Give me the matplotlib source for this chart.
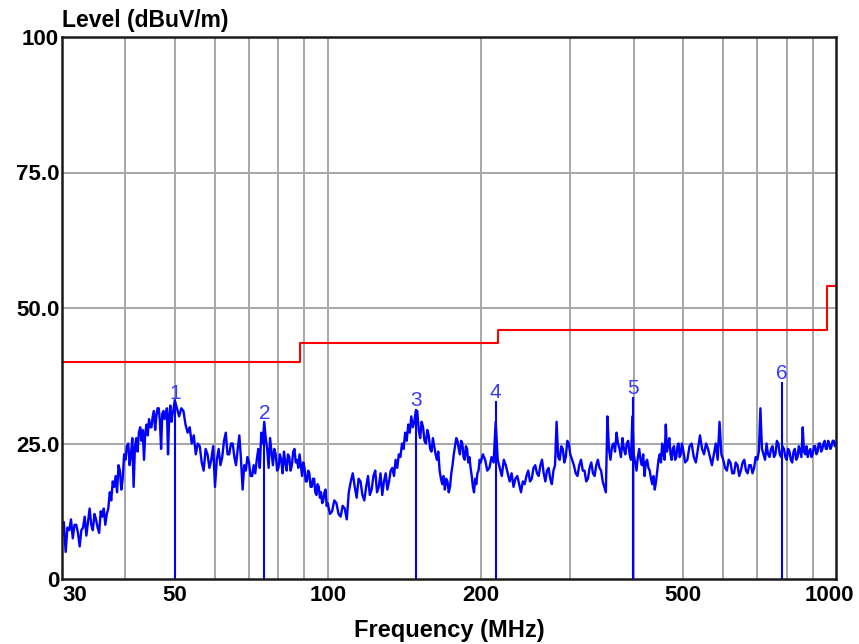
import matplotlib.pyplot as plt
from matplotlib.transforms import ScaledTranslation

freq_mhz = [
    # 30 - 40
    30.0, 30.25, 30.5, 30.75, 31.0, 31.25, 31.5, 31.75, 32.0, 32.25,
    32.5, 32.75, 33.0, 33.25, 33.5, 33.75, 34.0, 34.25, 34.5, 34.75,
    35.0, 35.25, 35.5, 35.75, 36.0, 36.25, 36.5, 36.75, 37.0, 37.25,
    37.5, 37.75, 38.0, 38.25, 38.5, 38.75, 39.0, 39.25, 39.5, 39.75,
    # 40 - 50
    40.0, 40.25, 40.5, 40.75, 41.0, 41.25, 41.5, 41.75, 42.0, 42.25,
    42.5, 42.75, 43.0, 43.25, 43.5, 43.75, 44.0, 44.25, 44.5, 44.75,
    45.0, 45.25, 45.5, 45.75, 46.0, 46.25, 46.5, 46.75, 47.0, 47.25,
    47.5, 47.75, 48.0, 48.25, 48.5, 48.75, 49.0, 49.25, 49.5, 49.75,
    # 50 - 100
    50.0, 50.5, 51.0, 51.5, 52.0, 52.5, 53.0, 53.5, 54.0, 54.5,
    55.0, 55.5, 56.0, 56.5, 57.0, 57.5, 58.0, 58.5, 59.0, 59.5,
    60.0, 60.5, 61.0, 61.5, 62.0, 62.5, 63.0, 63.5, 64.0, 64.5,
    65.0, 65.5, 66.0, 66.5, 67.0, 67.5, 68.0, 68.5, 69.0, 69.5,
    70.0, 70.5, 71.0, 71.5, 72.0, 72.5, 73.0, 73.5, 74.0, 74.5,
    75.0, 75.5, 76.0, 76.5, 77.0, 77.5, 78.0, 78.5, 79.0, 79.5,
    80.0, 80.5, 81.0, 81.5, 82.0, 82.5, 83.0, 83.5, 84.0, 84.5,
    85.0, 85.5, 86.0, 86.5, 87.0, 87.5, 88.0, 88.5, 89.0, 89.5,
    90.0, 90.5, 91.0, 91.5, 92.0, 92.5, 93.0, 93.5, 94.0, 94.5,
    95.0, 95.5, 96.0, 96.5, 97.0, 97.5, 98.0, 98.5, 99.0, 99.5,
    # 100 - 200
    100, 101, 102, 103, 104, 105, 106, 107, 108, 109,
    110, 111, 112, 113, 114, 115, 116, 117, 118, 119,
    120, 121, 122, 123, 124, 125, 126, 127, 128, 129,
    130, 131, 132, 133, 134, 135, 136, 137, 138, 139,
    140, 141, 142, 143, 144, 145, 146, 147, 148, 149,
    150, 151, 152, 153, 154, 155, 156, 157, 158, 159,
    160, 161, 162, 163, 164, 165, 166, 167, 168, 169,
    170, 171, 172, 173, 174, 175, 176, 177, 178, 179,
    180, 181, 182, 183, 184, 185, 186, 187, 188, 189,
    190, 191, 192, 193, 194, 195, 196, 197, 198, 199,
    # 200 - 300
    200, 202, 204, 206, 208, 210, 212, 214, 216, 218,
    220, 222, 224, 226, 228, 230, 232, 234, 236, 238,
    240, 242, 244, 246, 248, 250, 252, 254, 256, 258,
    260, 262, 264, 266, 268, 270, 272, 274, 276, 278,
    280, 282, 284, 286, 288, 290, 292, 294, 296, 298,
    # 300 - 500
    300, 302.5, 305, 307.5, 310, 312.5, 315, 317.5, 320, 322.5,
    325, 327.5, 330, 332.5, 335, 337.5, 340, 342.5, 345, 347.5,
    350, 352.5, 355, 357.5, 360, 362.5, 365, 367.5, 370, 372.5,
    375, 377.5, 380, 382.5, 385, 387.5, 390, 392.5, 395, 397.5,
    400, 402.5, 405, 407.5, 410, 412.5, 415, 417.5, 420, 422.5,
    425, 427.5, 430, 432.5, 435, 437.5, 440, 442.5, 445, 447.5,
    450, 452.5, 455, 457.5, 460, 462.5, 465, 467.5, 470, 472.5,
    475, 477.5, 480, 482.5, 485, 487.5, 490, 492.5, 495, 497.5,
    # 500 - 1000
    500, 505, 510, 515, 520, 525, 530, 535, 540, 545,
    550, 555, 560, 565, 570, 575, 580, 585, 590, 595,
    600, 605, 610, 615, 620, 625, 630, 635, 640, 645,
    650, 655, 660, 665, 670, 675, 680, 685, 690, 695,
    700, 705, 710, 715, 720, 725, 730, 735, 740, 745,
    750, 755, 760, 765, 770, 775, 780, 785, 790, 795,
    800, 805, 810, 815, 820, 825, 830, 835, 840, 845,
    850, 855, 860, 865, 870, 875, 880, 885, 890, 895,
    900, 905, 910, 915, 920, 925, 930, 935, 940, 945,
    950, 955, 960, 965, 970, 975, 980, 985, 990, 995,
    1000,
]

# Niveau mesuré (dBuV/m)
level_dbuv = [
    # 30 - 40
    8.0, 10.5, 5.0, 9.5, 9.0, 11.0, 7.5, 10.0, 10.0, 8.5,
    6.0, 9.0, 9.5, 11.5, 8.0, 10.5, 13.0, 10.0, 9.0, 12.0,
    11.0, 9.5, 8.5, 12.5, 11.5, 13.0, 10.0, 12.0, 13.0, 16.0,
    14.5, 18.0, 17.0, 19.0, 16.0, 21.0, 20.0, 16.5, 18.5, 23.0,
    # 40 - 50
    22.0, 24.5, 25.0, 21.0, 23.0, 26.0, 17.0, 24.5, 26.0, 23.5,
    27.0, 28.0, 25.5, 27.5, 22.0, 27.0, 28.5, 26.5, 29.5, 28.0,
    28.0, 30.0, 31.0, 27.5, 30.0, 31.5, 31.5, 29.0, 24.0, 30.5,
    31.0, 29.5, 30.0, 31.5, 23.0, 30.0, 32.0, 29.0, 30.5, 31.5,
    # 50 - 100
    33.0, 31.5, 30.0, 31.5, 31.0, 28.5, 27.0, 28.0, 25.0, 26.5,
    23.0, 25.0, 24.5, 21.5, 20.0, 24.0, 23.0, 20.5, 22.0, 24.5,
    17.0, 22.0, 24.0, 21.0, 22.5, 25.5, 27.0, 23.0, 23.0, 25.0,
    25.0, 22.5, 21.0, 24.0, 26.5, 22.0, 16.5, 21.0, 20.0, 22.5,
    21.5, 19.0, 19.0, 21.0, 19.5, 22.0, 24.0, 20.5, 27.0, 25.0,
    29.0, 26.0, 24.0, 20.5, 26.0, 23.5, 21.0, 24.0, 23.0, 20.0,
    20.5, 23.0, 22.0, 19.5, 23.5, 21.5, 20.0, 23.0, 22.5, 20.0,
    21.0, 23.5, 24.0, 21.5, 22.0, 20.5, 23.0, 21.0, 19.0, 21.5,
    20.5, 18.0, 18.0, 20.0, 19.5, 17.0, 17.0, 18.5, 18.5, 16.0,
    15.5, 17.5, 17.0, 15.0, 16.0, 14.0, 14.5, 16.0, 16.5, 13.5,
    # 100 - 200
    14.0, 12.0, 12.5, 14.5, 14.0, 12.0, 11.5, 13.5, 13.0, 11.0,
    16.0, 18.0, 19.5, 17.0, 15.0, 18.5, 18.0, 15.5, 14.5, 17.0,
    19.0, 15.5, 16.5, 19.0, 20.0, 16.0, 17.0, 19.5, 15.5, 18.0,
    19.5, 16.5, 18.0, 20.0, 20.5, 19.0, 22.0, 20.5, 23.0, 22.5,
    25.0, 24.0, 27.0, 25.5, 28.5, 27.0, 30.0, 28.0, 29.0, 31.0,
    31.0, 27.5, 26.0, 29.0, 28.0, 25.5, 25.0, 27.5, 26.5, 24.0,
    23.5, 26.0, 24.5, 23.0, 22.0, 23.5, 20.0, 18.5, 17.5, 19.0,
    16.5, 18.5, 18.0, 16.0, 17.0, 19.5, 21.0, 23.0, 24.5, 26.0,
    25.5, 24.0, 23.0, 25.5, 25.0, 22.5, 22.0, 24.5, 24.0, 21.5,
    22.5, 20.5, 19.0, 17.0, 16.0, 18.5, 17.5, 19.5, 20.0, 22.0,
    # 200 - 300
    21.5, 23.0, 22.0, 20.0, 20.5, 22.5, 21.5, 29.0, 22.0, 20.5,
    19.0, 22.0, 21.0, 19.5, 18.0, 19.5, 17.0, 18.5, 19.0, 17.5,
    16.0, 18.0, 17.5, 19.0, 20.0, 18.0, 18.5, 20.5, 21.0, 19.5,
    19.0, 21.0, 22.0, 19.5, 18.0, 20.0, 20.5, 18.5, 17.5, 20.0,
    21.0, 29.0, 22.5, 22.0, 24.5, 24.0, 21.5, 22.5, 25.5, 25.0,
    # 300 - 500
    23.0, 22.0, 21.0, 19.5, 19.0, 21.0, 22.0, 20.0, 20.0, 18.0,
    18.5, 20.5, 21.5, 19.5, 19.0, 21.0, 22.0, 20.5, 20.0, 18.0,
    17.0, 16.0, 30.0, 24.0, 22.0, 24.5, 25.0, 23.5, 27.0, 25.0,
    24.0, 22.5, 26.0, 24.0, 23.0, 25.0, 25.5, 23.0, 22.0, 30.0,
    23.0, 21.5, 20.0, 22.5, 24.0, 22.0, 21.0, 23.0, 19.0, 21.5,
    22.0, 20.5, 20.0, 18.5, 17.5, 19.0, 16.5, 18.0, 20.0, 22.0,
    23.0, 21.5, 25.0, 23.0, 22.0, 28.5, 23.5, 25.0, 26.0, 23.0,
    22.0, 24.0, 24.5, 22.0, 22.5, 24.5, 25.0, 22.5, 23.0, 25.0,
    # 500 - 1000
    24.0, 21.5, 22.0, 24.5, 25.0, 22.5, 21.5, 24.0, 26.5, 24.0,
    23.0, 25.0, 24.0, 22.5, 21.0, 23.0, 25.0, 22.0, 29.0, 23.0,
    22.0, 20.5, 20.0, 22.0, 21.5, 19.5, 19.5, 21.5, 21.0, 19.0,
    20.0, 21.5, 22.0, 20.0, 19.5, 21.0, 21.0, 19.5, 20.5, 22.5,
    22.0, 23.5, 31.5, 24.0, 23.0, 22.0, 25.0, 23.0, 22.5, 24.0,
    24.5, 22.5, 23.0, 25.5, 25.0, 23.0, 22.5, 24.5, 24.0, 22.5,
    22.0, 24.0, 23.5, 22.0, 21.5, 23.5, 24.0, 22.0, 22.5, 24.5,
    23.5, 22.5, 28.0, 23.5, 23.0, 24.5, 22.5, 23.5, 24.0, 22.5,
    23.0, 24.5, 24.5, 23.0, 23.5, 25.0, 25.0, 23.5, 24.0, 25.0,
    25.5, 24.0, 24.0, 25.5, 25.0, 24.0, 24.5, 25.5, 25.5, 24.5,
    25.0,
]
assert len(freq_mhz) == len(level_dbuv)

# Limite (palier)
limit_freq = [30, 88, 216, 960, 1000]
limit_level = [40, 43.5, 46, 54, 54]

# Marqueurs
marker_freq = [50, 75, 149, 214, 398, 783]
marker_level = [32.5, 28.8, 31.2, 32.7, 33.4, 36.2]
marker_labels = ["1", "2", "3", "4", "5", "6"]

xtick_values = [30, 50, 100, 200, 500, 1000]
xtick_labels = ["30", "50", "100", "200", "500", "1000"]
ytick_values = [0, 25, 50, 75, 100]
ytick_labels = ["0", "25.0", "50.0", "75.0", "100"]
xgrid_values = [40, 50, 60, 70, 80, 90, 100, 200, 300, 400, 500, 600, 700, 800, 900]

W, H = 859, 644
fig = plt.figure(figsize=(W / 100, H / 100), dpi=100)
ax = fig.add_axes([62 / W, (H - 579) / H, 774 / W, 542 / H])

ax.set_xscale('log')
ax.set_xlim(30, 1000)
ax.set_ylim(0, 100)

# Grille grise
for g in xgrid_values:
    ax.axvline(g, color='#a6a6a6', lw=1.4, zorder=1)
for g in [25, 50, 75]:
    ax.axhline(g, color='#a6a6a6', lw=1.4, zorder=1)

ax.step(limit_freq, limit_level, where='post', color='#ff0000', lw=1.5, zorder=3)
ax.plot(freq_mhz, level_dbuv, color='#0000ff', lw=1.7, zorder=4)

for f, lv, lab in zip(marker_freq, marker_level, marker_labels):
    ax.plot([f, f], [0, lv], color='#0000ff', lw=1.5, zorder=5)
    ax.text(f, lv, lab, color='#3a3aff', fontsize=15, ha='center', va='bottom',
            family='Liberation Sans', zorder=6)

ax.set_xticks(xtick_values)
ax.set_xticklabels(xtick_labels)
ax.xaxis.set_minor_locator(plt.NullLocator())
ax.set_yticks(ytick_values)
ax.set_yticklabels(ytick_labels)
ax.tick_params(length=0, labelsize=16, pad=4)
ax.tick_params(axis='y', pad=2)
for t in ax.get_xticklabels() + ax.get_yticklabels():
    t.set_fontweight('bold')
    t.set_family('Liberation Sans')

# Décalage des étiquettes extrêmes comme sur l'original
xl = ax.get_xticklabels()
xl[0].set_ha('left')
xl[-1].set_transform(xl[-1].get_transform() + ScaledTranslation(-0.07, 0, fig.dpi_scale_trans))

for s in ax.spines.values():
    s.set_linewidth(1.8)
    s.set_color('#1a1a1a')
    s.set_zorder(7)

fig.text(62 / W, 1 - 20 / H, "Level (dBuV/m)", fontsize=16.5, fontweight='bold',
         family='Liberation Sans', ha='left', va='center')
fig.text(449 / W, 1 - 630 / H, "Frequency (MHz)", fontsize=17, fontweight='bold',
         family='Liberation Sans', ha='center', va='center')

fig.savefig('out.png', dpi=100)
